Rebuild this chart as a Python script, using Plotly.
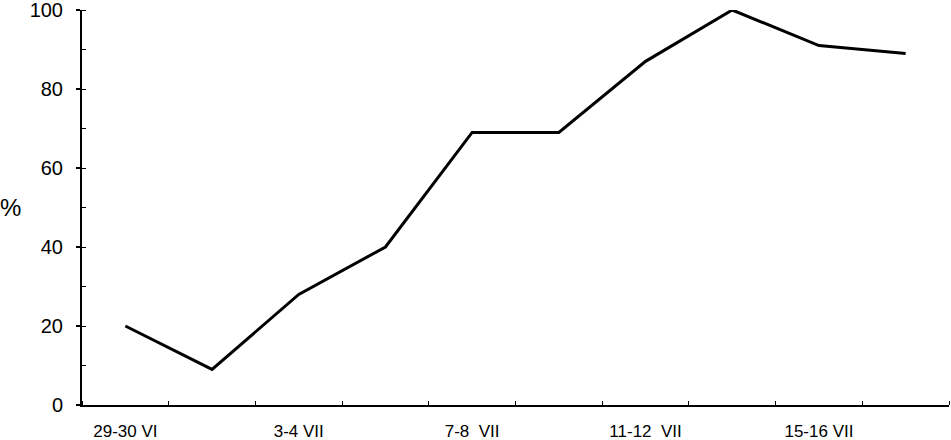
import plotly.graph_objects as go

# Share (%) observed per two-day period
periods = ["29-30 VI", "1-2 VII", "3-4 VII", "5-6 VII", "7-8  VII",
           "9-10 VII", "11-12  VII", "13-14 VII", "15-16 VII", "17-18 VII"]
percent = [20, 9, 28, 40, 69, 69, 87, 100, 91, 89]

# only every other period is labelled on the axis
shown_labels = {0: "29-30 VI", 2: "3-4 VII", 4: "7-8  VII", 6: "11-12  VII", 8: "15-16 VII"}

x_pos = [i + 0.5 for i in range(len(periods))]

fig = go.Figure()
fig.add_trace(go.Scatter(
    x=x_pos, y=percent, mode="lines",
    line=dict(color="black", width=3),
    showlegend=False,
))

fig.update_layout(
    width=951, height=440,
    margin=dict(l=82, r=2, t=10, b=35),
    paper_bgcolor="white", plot_bgcolor="white",
    font=dict(family="Liberation Sans, Arial, sans-serif", color="black"),
    xaxis=dict(
        range=[0, len(periods)],
        tickvals=[x_pos[i] for i in shown_labels],
        ticktext=list(shown_labels.values()),
        ticks="", tickfont=dict(size=17), ticklabelstandoff=10,
        ticklabeloverflow="allow",
        showline=True, linecolor="black", linewidth=2,
        showgrid=False, zeroline=False, automargin=False,
        minor=dict(tick0=0, dtick=1, ticks="inside", ticklen=4,
                   tickcolor="black", tickwidth=1, showgrid=False),
    ),
    yaxis=dict(
        range=[0, 100], tickvals=[0, 20, 40, 60, 80, 100],
        ticks="outside", ticklen=4, tickwidth=2, tickcolor="black",
        tickfont=dict(size=20), ticklabelstandoff=9,
        ticklabeloverflow="allow",
        showline=True, linecolor="black", linewidth=2,
        showgrid=False, zeroline=False, automargin=False,
        minor=dict(tick0=0, dtick=10, ticks="inside", ticklen=4,
                   tickcolor="black", tickwidth=1, showgrid=False),
    ),
    annotations=[dict(
        text="%", xref="paper", yref="paper", x=-0.097, y=0.5,
        xanchor="left", yanchor="middle", showarrow=False,
        font=dict(size=24),
    )],
)

# drop the browser's default body margin so the figure sits at the page corner
fig.write_html("out.html", config={"displayModeBar": False},
               post_script="document.body.style.margin='0';")
